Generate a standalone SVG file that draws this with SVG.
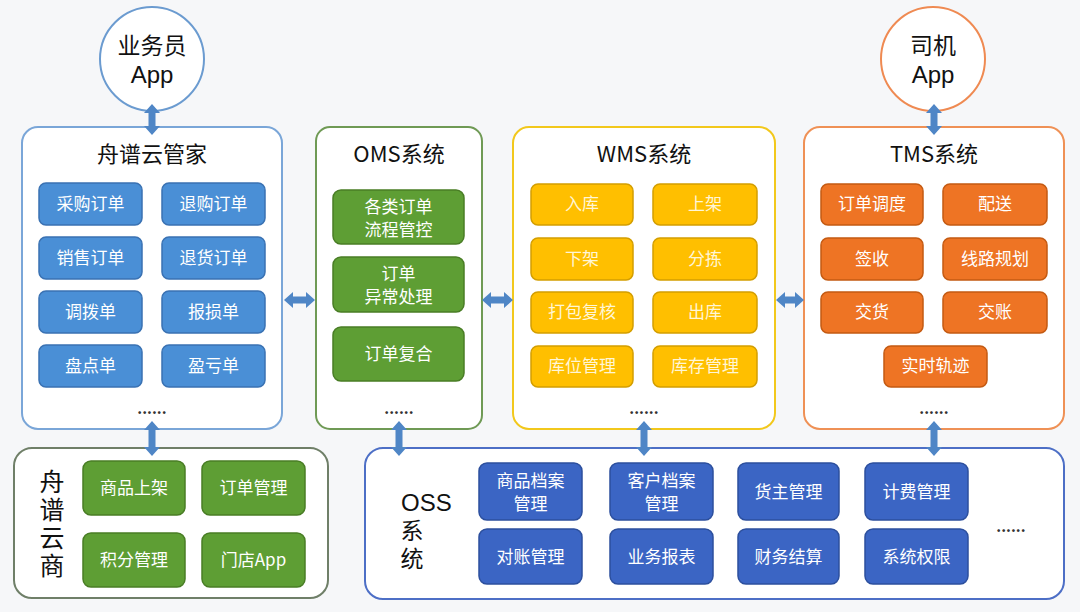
<svg xmlns="http://www.w3.org/2000/svg" width="1080" height="612" viewBox="0 0 1080 612">
<style>
text{font-family:"Noto Sans CJK SC","Liberation Sans",sans-serif;text-anchor:middle;}
.title{font-size:22px;fill:#111;}
.lat{font-family:"Liberation Sans","Noto Sans CJK SC",sans-serif;}
.it{font-size:17px;fill:#fff;}
.ity{font-size:17px;fill:#fff6d6;}
.dots{font-size:15px;fill:#333;font-weight:bold;}
.panel{fill:#fff;stroke-width:2;}
.b1{fill:#4a8fd6;stroke:#3a72b3;stroke-width:1.5;}
.g1{fill:#5e9e34;stroke:#497d25;stroke-width:1.5;}
.y1{fill:#ffbf00;stroke:#d39e00;stroke-width:1.5;}
.o1{fill:#ee7424;stroke:#c45a12;stroke-width:1.5;}
.d1{fill:#3b65c4;stroke:#2c4f9d;stroke-width:1.5;}
.arr{fill:#4f86c6;}
</style>
<rect width="1080" height="612" fill="#f6f7f9"/>

<g id="app-salesman">
<circle cx="152" cy="59" r="52" fill="#fff" stroke="#6b9bd0" stroke-width="2"/>
<text x="152" y="54" class="title" style="font-size:23px">业务员</text>
<text x="152" y="83" class="title lat" style="font-size:24px">App</text>
</g>
<g id="app-driver">
<circle cx="933" cy="59" r="52" fill="#fff" stroke="#ef8a52" stroke-width="2"/>
<text x="933" y="54" class="title" style="font-size:23px">司机</text>
<text x="933" y="83" class="title lat" style="font-size:24px">App</text>
</g>

<g id="zhoupu-yunguanjia">
<rect x="22" y="127" width="260" height="302" rx="16" class="panel" stroke="#7aa6d8"/>
<text x="152" y="162" class="title">舟谱云管家</text>
<rect x="39" y="183" width="103" height="42" rx="7" class="b1"/><text x="90.5" y="210" class="it">采购订单</text>
<rect x="162" y="183" width="103" height="42" rx="7" class="b1"/><text x="213.5" y="210" class="it">退购订单</text>
<rect x="39" y="237" width="103" height="42" rx="7" class="b1"/><text x="90.5" y="264" class="it">销售订单</text>
<rect x="162" y="237" width="103" height="42" rx="7" class="b1"/><text x="213.5" y="264" class="it">退货订单</text>
<rect x="39" y="291" width="103" height="42" rx="7" class="b1"/><text x="90.5" y="318" class="it">调拨单</text>
<rect x="162" y="291" width="103" height="42" rx="7" class="b1"/><text x="213.5" y="318" class="it">报损单</text>
<rect x="39" y="345" width="103" height="42" rx="7" class="b1"/><text x="90.5" y="372" class="it">盘点单</text>
<rect x="162" y="345" width="103" height="42" rx="7" class="b1"/><text x="213.5" y="372" class="it">盈亏单</text>
<text x="152" y="414" class="dots">......</text>
</g>

<g id="oms">
<rect x="316" y="127" width="166" height="302" rx="14" class="panel" stroke="#6f9a55"/>
<text x="399" y="162" class="title">OMS系统</text>
<rect x="333" y="190" width="131" height="54" rx="8" class="g1"/>
<text class="it"><tspan x="398.5" y="213">各类订单</tspan><tspan x="398.5" y="236">流程管控</tspan></text>
<rect x="333" y="257" width="131" height="55" rx="8" class="g1"/>
<text class="it"><tspan x="398.5" y="280">订单</tspan><tspan x="398.5" y="303">异常处理</tspan></text>
<rect x="333" y="327" width="131" height="54" rx="8" class="g1"/>
<text x="398.5" y="360" class="it">订单复合</text>
<text x="399" y="414" class="dots">......</text>
</g>

<g id="wms">
<rect x="513" y="127" width="262" height="302" rx="16" class="panel" stroke="#f2c81c"/>
<text x="644" y="162" class="title">WMS系统</text>
<rect x="531" y="184" width="102" height="41" rx="7" class="y1"/><text x="582" y="210" class="ity">入库</text>
<rect x="653" y="184" width="104" height="41" rx="7" class="y1"/><text x="705" y="210" class="ity">上架</text>
<rect x="531" y="238" width="102" height="42" rx="7" class="y1"/><text x="582" y="265" class="ity">下架</text>
<rect x="653" y="238" width="104" height="42" rx="7" class="y1"/><text x="705" y="265" class="ity">分拣</text>
<rect x="531" y="292" width="102" height="41" rx="7" class="y1"/><text x="582" y="318" class="ity">打包复核</text>
<rect x="653" y="292" width="104" height="41" rx="7" class="y1"/><text x="705" y="318" class="ity">出库</text>
<rect x="531" y="346" width="102" height="41" rx="7" class="y1"/><text x="582" y="372" class="ity">库位管理</text>
<rect x="653" y="346" width="104" height="41" rx="7" class="y1"/><text x="705" y="372" class="ity">库存管理</text>
<text x="644" y="414" class="dots">......</text>
</g>

<g id="tms">
<rect x="804" y="127" width="260" height="302" rx="16" class="panel" stroke="#ef9156"/>
<text x="934" y="162" class="title">TMS系统</text>
<rect x="821" y="184" width="102" height="41" rx="7" class="o1"/><text x="872" y="210" class="it">订单调度</text>
<rect x="943" y="184" width="104" height="41" rx="7" class="o1"/><text x="995" y="210" class="it">配送</text>
<rect x="821" y="238" width="102" height="42" rx="7" class="o1"/><text x="872" y="265" class="it">签收</text>
<rect x="943" y="238" width="104" height="42" rx="7" class="o1"/><text x="995" y="265" class="it">线路规划</text>
<rect x="821" y="292" width="102" height="41" rx="7" class="o1"/><text x="872" y="318" class="it">交货</text>
<rect x="943" y="292" width="104" height="41" rx="7" class="o1"/><text x="995" y="318" class="it">交账</text>
<rect x="884" y="346" width="103" height="41" rx="7" class="o1"/><text x="935.5" y="372" class="it">实时轨迹</text>
<text x="934" y="414" class="dots">......</text>
</g>

<g id="zhoupu-yunshang">
<rect x="14" y="448" width="314" height="150" rx="18" class="panel" stroke="#6f7f68"/>
<text x="52" y="525" class="title" style="font-size:25px;writing-mode:vertical-rl;letter-spacing:3px">舟谱云商</text>
<rect x="83" y="461" width="102" height="54" rx="8" class="g1"/><text x="134" y="494" class="it">商品上架</text>
<rect x="202" y="461" width="103" height="54" rx="8" class="g1"/><text x="253.5" y="494" class="it">订单管理</text>
<rect x="83" y="533" width="102" height="54" rx="8" class="g1"/><text x="134" y="566" class="it">积分管理</text>
<rect x="202" y="533" width="103" height="54" rx="8" class="g1"/><text x="253.5" y="566" class="it">门店App</text>
</g>

<g id="oss">
<rect x="365" y="448" width="699" height="151" rx="18" class="panel" stroke="#4d6fc6"/>
<text x="401" y="511" class="title lat" style="font-size:24px;text-anchor:start">OSS</text>
<text x="412" y="519" class="title" style="font-size:23px;writing-mode:vertical-rl;letter-spacing:5px;text-anchor:start">系统</text>
<rect x="479" y="463" width="103" height="57" rx="8" class="d1"/>
<text class="it"><tspan x="530.5" y="487">商品档案</tspan><tspan x="530.5" y="510">管理</tspan></text>
<rect x="610" y="463" width="103" height="57" rx="8" class="d1"/>
<text class="it"><tspan x="661.5" y="487">客户档案</tspan><tspan x="661.5" y="510">管理</tspan></text>
<rect x="738" y="463" width="101" height="57" rx="8" class="d1"/><text x="788.5" y="498" class="it">货主管理</text>
<rect x="865" y="463" width="103" height="57" rx="8" class="d1"/><text x="916.5" y="498" class="it">计费管理</text>
<rect x="479" y="529" width="103" height="55" rx="8" class="d1"/><text x="530.5" y="563" class="it">对账管理</text>
<rect x="610" y="529" width="103" height="55" rx="8" class="d1"/><text x="661.5" y="563" class="it">业务报表</text>
<rect x="738" y="529" width="101" height="55" rx="8" class="d1"/><text x="788.5" y="563" class="it">财务结算</text>
<rect x="865" y="529" width="103" height="55" rx="8" class="d1"/><text x="916.5" y="563" class="it">系统权限</text>
<text x="1011" y="532" class="dots">......</text>
</g>

<g id="connectors" class="arr">
<polygon points="152,104 160,113 155.5,113 155.5,126 160,126 152,135 144,126 148.5,126 148.5,113 144,113"/>
<polygon points="934,104 942,113 937.5,113 937.5,126 942,126 934,135 926,126 930.5,126 930.5,113 926,113"/>
<polygon points="152,421 160,430 155.5,430 155.5,447 160,447 152,456 144,447 148.5,447 148.5,430 144,430"/>
<polygon points="399,421 407,430 402.5,430 402.5,447 407,447 399,456 391,447 395.5,447 395.5,430 391,430"/>
<polygon points="644,421 652,430 647.5,430 647.5,447 652,447 644,456 636,447 640.5,447 640.5,430 636,430"/>
<polygon points="934,421 942,430 937.5,430 937.5,447 942,447 934,456 926,447 930.5,447 930.5,430 926,430"/>
<polygon points="284,300 293,292 293,296.5 306,296.5 306,292 315,300 306,308 306,303.5 293,303.5 293,308"/>
<polygon points="482,300 491,292 491,296.5 504,296.5 504,292 513,300 504,308 504,303.5 491,303.5 491,308"/>
<polygon points="776,300 785,292 785,296.5 795,296.5 795,292 804,300 795,308 795,303.5 785,303.5 785,308"/>
</g>
</svg>
